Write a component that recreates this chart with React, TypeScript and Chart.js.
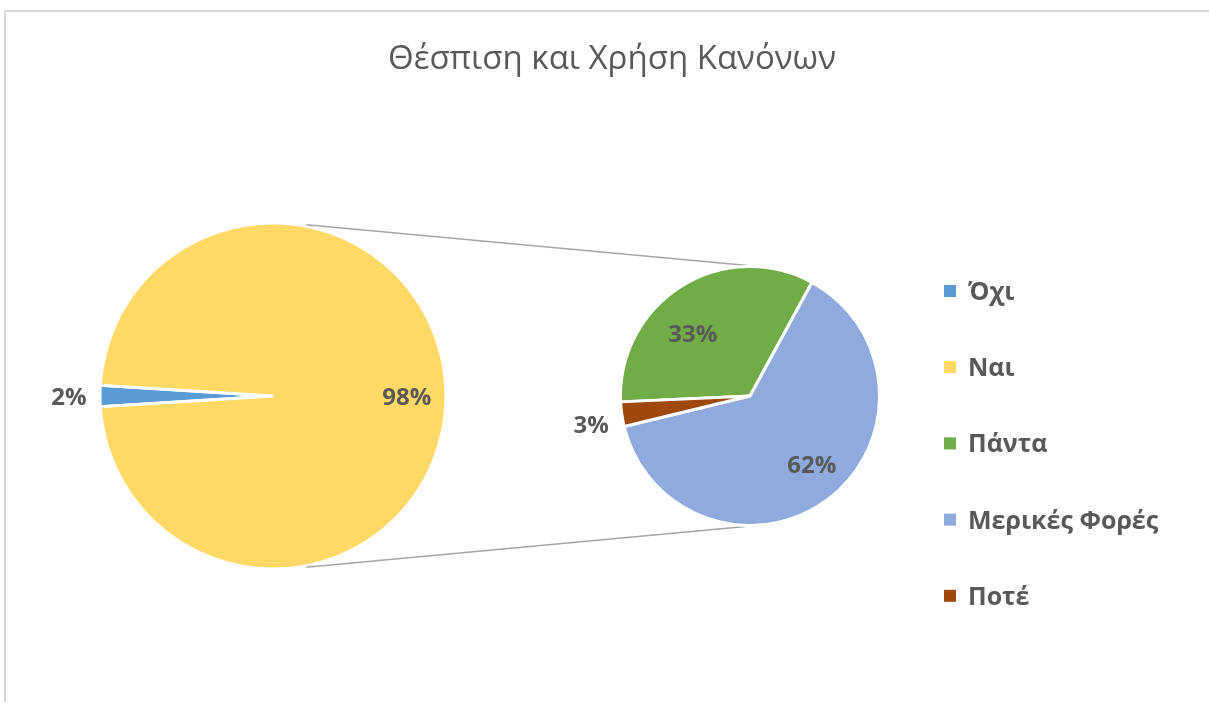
import React, { useEffect, useRef } from "react";
import { Chart, registerables } from "chart.js";

Chart.register(...registerables);

const TITLE = "Θέσπιση και Χρήση Κανόνων";

const MAIN_LABELS = ["Όχι", "Ναι"];
const MAIN_VALUES = [2, 98];
const MAIN_COLORS = ["#5B9BD5", "#FFD966"];

const SUB_LABELS = ["Πάντα", "Μερικές Φορές", "Ποτέ"];
const SUB_VALUES = [33, 62, 3];
const SUB_COLORS = ["#70AD47", "#8FAADC", "#9E480E"];

// label placement relative to each slice (fraction of radius, angle shift in degrees)
const MAIN_LABEL_RADIUS = [1.19, 0.78];
const MAIN_LABEL_SHIFT = [0, 0];
const SUB_LABEL_RADIUS = [0.66, 0.72, 1.26];
const SUB_LABEL_SHIFT = [-10.6, -4.6, -2];

const W = 1209;
const H = 702;
const MAIN_CENTER = { x: 273, y: 396 };
const MAIN_R = 171.5;
const SUB_CENTER = { x: 750, y: 396 };
const SUB_R = 128;
const BORDER = 3;

const TEXT = "#595959";
const FONT = "'Open Sans', 'Noto Sans', sans-serif";
const LABEL_SIZE = 24;
const LEGEND_SIZE = 25;

const MAIN_TOTAL = MAIN_VALUES.reduce((a, b) => a + b, 0);

function paddingFor(c: { x: number; y: number }, r: number) {
  const half = r + BORDER;
  return {
    left: c.x - half,
    top: c.y - half,
    right: W - (c.x + half),
    bottom: H - (c.y + half),
  };
}

function pctPlugin(radii: number[], shifts: number[]) {
  return {
    id: "pctLabels",
    afterDatasetsDraw(chart: any) {
      const ctx = chart.ctx;
      const meta = chart.getDatasetMeta(0);
      const vals = chart.data.datasets[0].data as number[];
      ctx.save();
      ctx.font = `bold ${LABEL_SIZE}px ${FONT}`;
      ctx.fillStyle = TEXT;
      ctx.textAlign = "center";
      ctx.textBaseline = "alphabetic";
      meta.data.forEach((arc: any, i: number) => {
        const p = arc.getProps(["x", "y", "startAngle", "endAngle", "outerRadius"], true);
        const a = (p.startAngle + p.endAngle) / 2 + (shifts[i] * Math.PI) / 180;
        const r = (p.outerRadius - BORDER / 2) * radii[i];
        const txt = Math.round((vals[i] / MAIN_TOTAL) * 100) + "%";
        ctx.fillText(txt, p.x + Math.cos(a) * r, p.y + Math.sin(a) * r + LABEL_SIZE * 0.357);
      });
      ctx.restore();
    },
  };
}

const titlePlugin = {
  id: "titleText",
  afterDraw(chart: any) {
    const ctx = chart.ctx;
    ctx.save();
    ctx.font = `400 33px ${FONT}`;
    ctx.fillStyle = TEXT;
    ctx.textAlign = "center";
    ctx.textBaseline = "alphabetic";
    ctx.fillText(TITLE, 612, 69);
    ctx.restore();
  },
};

const LEGEND_LABELS = [...MAIN_LABELS, ...SUB_LABELS];
const LEGEND_COLORS = [...MAIN_COLORS, ...SUB_COLORS];

const legendPlugin = {
  id: "sideLegend",
  afterDraw(chart: any) {
    const ctx = chart.ctx;
    ctx.save();
    ctx.font = `bold ${LEGEND_SIZE}px ${FONT}`;
    ctx.textAlign = "left";
    ctx.textBaseline = "alphabetic";
    LEGEND_LABELS.forEach((lab, i) => {
      const cy = 291 + i * 76.2;
      ctx.fillStyle = LEGEND_COLORS[i];
      ctx.fillRect(944, cy - 6, 12, 12);
      ctx.fillStyle = TEXT;
      ctx.fillText(lab, 968, cy + LEGEND_SIZE * 0.357);
    });
    ctx.restore();
  },
};

const CONNECT_MAIN_ANGLE = [-79, 79];
const CONNECT_SUB_ANGLE = [-91, 92];

function connectorPlugin(getMain: () => any) {
  return {
    id: "connectors",
    beforeDatasetsDraw(chart: any) {
      const main = getMain();
      if (!main) return;
      const m = main.getDatasetMeta(0).data[0].getProps(["x", "y", "outerRadius"], true);
      const s = chart.getDatasetMeta(0).data[0].getProps(["x", "y", "outerRadius"], true);
      const ctx = chart.ctx;
      ctx.save();
      ctx.strokeStyle = "#A6A6A6";
      ctx.lineWidth = 1.5;
      for (let k = 0; k < 2; k++) {
        const am = (CONNECT_MAIN_ANGLE[k] * Math.PI) / 180;
        const as = (CONNECT_SUB_ANGLE[k] * Math.PI) / 180;
        const rm = m.outerRadius + 1.5;
        const rs = s.outerRadius + 1;
        ctx.beginPath();
        ctx.moveTo(m.x + Math.cos(am) * rm, m.y + Math.sin(am) * rm);
        ctx.lineTo(s.x + Math.cos(as) * rs, s.y + Math.sin(as) * rs);
        ctx.stroke();
      }
      ctx.restore();
    },
  };
}

function baseOptions(pad: any, rotation: number) {
  return {
    responsive: false,
    animation: false as const,
    devicePixelRatio: 1,
    events: [] as any[],
    rotation,
    layout: { padding: pad },
    plugins: {
      legend: { display: false },
      title: { display: false },
      tooltip: { enabled: false },
    },
  };
}

export default function App() {
  const ref1 = useRef<HTMLCanvasElement>(null);
  const ref2 = useRef<HTMLCanvasElement>(null);

  useEffect(() => {
    let c1: any = null;
    const mainRotation = 270 - ((MAIN_VALUES[0] / MAIN_TOTAL) * 360) / 2;
    c1 = new Chart(ref1.current as HTMLCanvasElement, {
      type: "pie",
      data: {
        labels: MAIN_LABELS,
        datasets: [
          {
            data: MAIN_VALUES,
            backgroundColor: MAIN_COLORS,
            borderColor: "#FFFFFF",
            borderWidth: BORDER,
            hoverOffset: 0,
            offset: 0,
          },
        ],
      },
      options: baseOptions(paddingFor(MAIN_CENTER, MAIN_R), mainRotation) as any,
      plugins: [titlePlugin, pctPlugin(MAIN_LABEL_RADIUS, MAIN_LABEL_SHIFT)],
    });
    const c2 = new Chart(ref2.current as HTMLCanvasElement, {
      type: "pie",
      data: {
        labels: SUB_LABELS,
        datasets: [
          {
            data: SUB_VALUES,
            backgroundColor: SUB_COLORS,
            borderColor: "#FFFFFF",
            borderWidth: BORDER,
            hoverOffset: 0,
            offset: 0,
          },
        ],
      },
      options: baseOptions(paddingFor(SUB_CENTER, SUB_R), 267.4) as any,
      plugins: [connectorPlugin(() => c1), pctPlugin(SUB_LABEL_RADIUS, SUB_LABEL_SHIFT), legendPlugin],
    });
    return () => {
      c2.destroy();
      c1.destroy();
    };
  }, []);

  return (
    <div
      style={{
        position: "absolute",
        left: 0,
        top: 0,
        width: W,
        height: H,
        background: "#FFFFFF",
        overflow: "hidden",
      }}
    >
      <div
        style={{
          position: "absolute",
          left: 4,
          top: 10,
          width: W,
          height: H,
          borderTop: "2px solid #D9D9D9",
          borderLeft: "2px solid #D9D9D9",
        }}
      />
      <canvas ref={ref1} width={W} height={H} style={{ position: "absolute", left: 0, top: 0 }} />
      <canvas ref={ref2} width={W} height={H} style={{ position: "absolute", left: 0, top: 0 }} />
    </div>
  );
}
